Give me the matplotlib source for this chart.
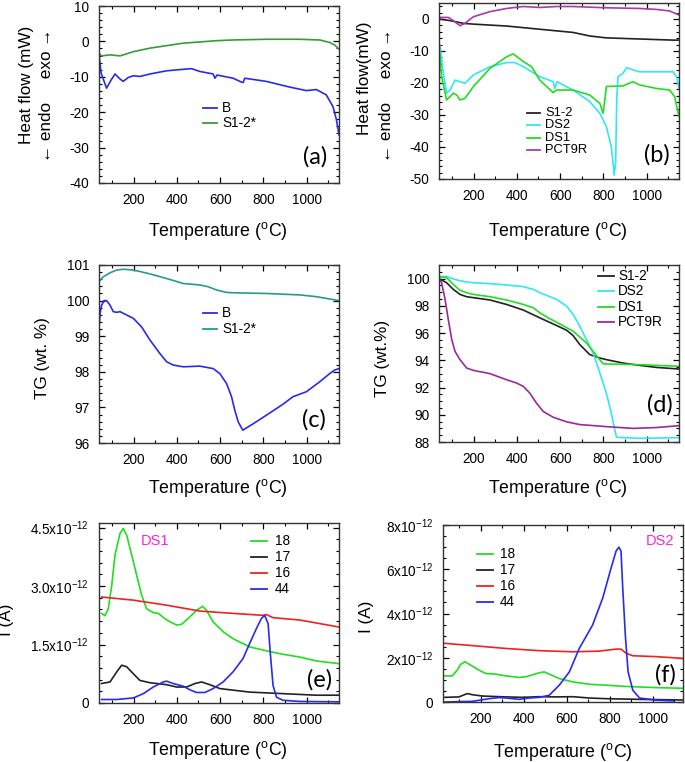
import matplotlib
matplotlib.use('Agg')
import matplotlib.pyplot as plt
from matplotlib.lines import Line2D
from matplotlib.ticker import MultipleLocator

plt.rcParams['font.family'] = ['Liberation Sans', 'DejaVu Sans']
plt.rcParams['mathtext.fontset'] = 'custom'
plt.rcParams['mathtext.rm'] = 'Liberation Sans'
plt.rcParams['mathtext.it'] = 'Liberation Sans:italic'
plt.rcParams['axes.unicode_minus'] = False

# ---------------- (a) DSC: B and S1-2* ----------------
a_B_T = [40, 50, 75, 95, 114, 135, 152, 175, 199, 230, 276, 353, 445, 468, 507, 568, 576, 586,
         660, 699, 707, 714, 814, 922, 999, 1045, 1091, 1122, 1138, 1150]
a_B_Q = [-3.8, -9.0, -13.2, -11.0, -9.2, -10.5, -11.3, -10.2, -9.7, -9.9, -9.2, -8.3, -7.8, -7.7,
         -8.5, -9.2, -10.4, -9.5, -10.4, -11.5, -11.6, -10.4, -11.3, -12.9, -13.9, -13.6, -15.1,
         -18.4, -22.1, -26.4]
a_S_T = [40, 52, 91, 137, 199, 276, 353, 430, 506, 583, 660, 814, 968, 1061, 1107, 1130, 1150]
a_S_Q = [-3.3, -4.1, -3.8, -4.1, -2.9, -1.9, -1.2, -0.5, -0.15, 0.2, 0.4, 0.6, 0.6, 0.4, -0.3,
         -1.0, -2.2]

# ---------------- (b) DSC: S1-2, DS2, DS1, PCT9R ----------------
b_S_T = [40, 91, 152, 199, 353, 506, 660, 737, 814, 968, 1122, 1150]
b_S_Q = [0, -0.5, -1.35, -1.6, -2.2, -3.2, -4.2, -5.3, -5.9, -6.25, -6.6, -6.6]
b_P_T = [40, 83, 106, 137, 160, 199, 276, 353, 430, 506, 583, 660, 814, 968, 1045, 1107, 1150]
b_P_Q = [0.5, 0.5, -0.5, -2.1, -1.35, 0.7, 2.3, 3.3, 3.9, 3.6, 3.9, 3.9, 3.5, 3.3, 3.0, 2.5, 1.25]
b_D2_T = [40, 45, 60, 75, 91, 114, 137, 160, 199, 276, 353, 391, 430, 468, 506, 568, 576, 586,
          660, 737, 784, 814, 837, 845, 850, 857, 862, 868, 891, 907, 937, 968, 1122, 1138, 1150]
b_D2_Q = [-7.0, -8.6, -17.0, -23.2, -22.2, -19.1, -19.6, -20.1, -17.5, -14.9, -13.6, -13.6,
          -14.9, -16.5, -18.0, -19.6, -21.7, -19.6, -22.2, -25.8, -29.5, -33.6, -39.9, -45.0,
          -48.8, -45.0, -25.0, -18.0, -17.0, -15.2, -15.9, -16.5, -16.5, -18.0, -21.7]
b_D1_T = [40, 52, 75, 91, 106, 122, 137, 160, 199, 276, 353, 383, 430, 468, 506, 568, 583, 660,
          737, 784, 799, 807, 814, 891, 937, 968, 1045, 1107, 1130, 1150]
b_D1_Q = [-7.6, -18.0, -25.3, -24.3, -23.2, -23.75, -25.3, -24.8, -21.1, -15.4, -11.8, -10.9,
          -13.3, -14.9, -19.1, -23.0, -22.2, -22.2, -23.75, -26.4, -29.5, -25.3, -21.1, -20.9,
          -19.6, -20.6, -21.7, -22.2, -24.3, -30.5]

# ---------------- (c) TG: B and S1-2* ----------------
c_B_T = [40, 45, 52, 63, 75, 91, 106, 122, 137, 199, 237, 276, 322, 353, 383, 430, 506, 568,
         599, 630, 653, 668, 684, 705, 753, 814, 891, 937, 999, 1061, 1107, 1130, 1150]
c_B_W = [99.22, 99.64, 99.87, 100.0, 100.0, 99.87, 99.69, 99.67, 99.69, 99.5, 99.26, 98.89,
         98.51, 98.28, 98.19, 98.14, 98.16, 98.09, 97.95, 97.67, 97.3, 96.92, 96.59, 96.36,
         96.54, 96.78, 97.09, 97.3, 97.44, 97.72, 97.95, 98.05, 98.09]
c_S_T = [40, 60, 91, 122, 152, 199, 276, 353, 430, 506, 545, 583, 630, 660, 814, 968, 1045, 1122,
         1150]
c_S_W = [100.53, 100.67, 100.78, 100.86, 100.88, 100.86, 100.75, 100.62, 100.48, 100.44, 100.39,
         100.3, 100.23, 100.22, 100.2, 100.16, 100.11, 100.03, 100.0]

# ---------------- (d) TG: S1-2, DS2, DS1, PCT9R ----------------
d_S_T = [40, 75, 106, 137, 168, 199, 276, 353, 430, 506, 583, 630, 660, 691, 737, 784, 814, 891,
         968, 1045, 1150]
d_S_W = [100.0, 99.7, 99.21, 98.84, 98.67, 98.6, 98.43, 98.1, 97.69, 97.12, 96.56, 96.21, 95.82,
         95.16, 94.42, 94.17, 94.05, 93.8, 93.63, 93.48, 93.36]
d_D2_T = [40, 75, 122, 168, 199, 276, 353, 430, 476, 506, 583, 630, 660, 691, 722, 753, 784, 814,
          837, 853, 861, 891, 968, 1150]
d_D2_W = [100.15, 100.15, 99.9, 99.75, 99.7, 99.63, 99.53, 99.41, 99.21, 98.97, 98.48, 97.98,
          97.37, 96.51, 95.52, 94.54, 93.07, 91.59, 90.12, 88.89, 88.35, 88.32, 88.27, 88.32]
d_D1_T = [40, 75, 106, 137, 176, 199, 276, 353, 430, 476, 506, 545, 583, 660, 722, 768, 799, 814,
          968, 1150]
d_D1_W = [100.15, 100.07, 99.58, 99.14, 98.92, 98.84, 98.67, 98.43, 98.1, 97.86, 97.49, 97.12,
          96.8, 96.14, 95.28, 94.34, 93.75, 93.73, 93.68, 93.56]
d_P_T = [40, 52, 68, 83, 99, 114, 137, 168, 199, 276, 353, 399, 430, 460, 491, 522, 568, 630, 691,
         814, 937, 1045, 1150]
d_P_W = [100.0, 99.7, 98.48, 97.0, 95.52, 94.66, 94.05, 93.43, 93.26, 93.02, 92.57, 92.33, 92.08,
         91.59, 90.85, 90.24, 89.82, 89.48, 89.28, 89.13, 89.0, 89.06, 89.2]

# ---------------- (e) MS currents, DS1 (units of 1e-12 A) ----------------
e_18_T = [52, 68, 83, 99, 114, 137, 152, 168, 191, 214, 237, 260, 291, 314, 353, 399, 422, 460,
          491, 519, 537, 568, 614, 660, 737, 814, 891, 968, 1045, 1150]
e_18_I = [2.3, 2.24, 2.42, 3.02, 3.8, 4.35, 4.48, 4.31, 3.8, 3.28, 2.77, 2.42, 2.32, 2.3, 2.13,
          2.0, 2.02, 2.21, 2.38, 2.48, 2.38, 2.08, 1.83, 1.65, 1.44, 1.34, 1.25, 1.18, 1.08, 1.01]
e_17_T = [52, 91, 122, 145, 168, 199, 229, 276, 353, 399, 445, 484, 514, 553, 599, 660, 737, 814,
          891, 968, 1045, 1150]
e_17_I = [0.5, 0.54, 0.8, 0.97, 0.93, 0.75, 0.58, 0.52, 0.47, 0.41, 0.41, 0.5, 0.54, 0.47, 0.37,
          0.33, 0.28, 0.26, 0.24, 0.22, 0.2, 0.2]
e_16_T = [52, 199, 353, 506, 660, 799, 814, 845, 968, 1150]
e_16_I = [2.72, 2.64, 2.51, 2.36, 2.3, 2.25, 2.27, 2.19, 2.13, 1.95]
e_44_T = [52, 122, 199, 245, 291, 337, 353, 383, 430, 460, 491, 530, 568, 614, 660, 706, 737, 768,
          791, 806, 822, 833, 845, 861, 891, 968, 1150]
e_44_I = [0.09, 0.09, 0.13, 0.24, 0.41, 0.54, 0.56, 0.5, 0.43, 0.34, 0.27, 0.27, 0.37, 0.54, 0.8,
          1.14, 1.53, 1.91, 2.17, 2.25, 2.04, 1.23, 0.45, 0.15, 0.07, 0.04, 0.03]

# ---------------- (f) MS currents, DS2 (units of 1e-12 A) ----------------
f_18_T = [34, 68, 91, 107, 127, 153, 192, 223, 270, 317, 379, 410, 472, 495, 518, 565, 627, 705,
          783, 860, 938, 1016, 1140]
f_18_I = [1.18, 1.18, 1.44, 1.7, 1.82, 1.67, 1.44, 1.29, 1.26, 1.18, 1.11, 1.14, 1.32, 1.36, 1.26,
          1.06, 0.91, 0.8, 0.76, 0.71, 0.68, 0.65, 0.62]
f_17_T = [34, 99, 138, 161, 208, 317, 395, 472, 550, 627, 705, 783, 938, 1140]
f_17_I = [0.21, 0.23, 0.38, 0.33, 0.27, 0.23, 0.21, 0.24, 0.23, 0.24, 0.18, 0.15, 0.12, 0.09]
f_16_T = [34, 161, 317, 472, 627, 751, 829, 852, 876, 907, 1016, 1140]
f_16_I = [2.65, 2.55, 2.42, 2.32, 2.27, 2.3, 2.39, 2.39, 2.2, 2.09, 2.05, 1.97]
f_44_T = [34, 161, 239, 285, 317, 379, 425, 472, 518, 565, 612, 658, 720, 767, 806, 829, 842, 852,
          860, 873, 885, 907, 938, 1016, 1094]
f_44_I = [0.0, 0.03, 0.15, 0.2, 0.18, 0.12, 0.18, 0.21, 0.3, 0.76, 1.36, 2.42, 3.48, 4.7, 6.06,
          6.82, 7.0, 6.82, 5.15, 2.88, 1.36, 0.53, 0.18, 0.08, 0.05]

BLUE = '#2a2aee'
GREEN = '#22dd22'
CYAN = '#33e6f6'
BLACK = '#222222'
PURPLE = '#9a2a9a'
RED = '#ee2222'

W, H = 685, 762
fig = plt.figure(figsize=(W / 100, H / 100), dpi=100)


def axes_px(l, t, r, b):
    ax = fig.add_axes([l / W, 1 - b / H, (r - l) / W, (b - t) / H])
    ax.tick_params(which='both', direction='in', top=True, right=True, labelsize=9.8, pad=7)
    ax.tick_params(which='major', length=4, width=0.9)
    ax.tick_params(which='minor', length=2.3, width=0.8)
    ax.xaxis.set_major_locator(MultipleLocator(200))
    ax.xaxis.set_minor_locator(MultipleLocator(100))
    for s in ax.spines.values():
        s.set_linewidth(1.0)
        s.set_color('#333333')
    return ax


def ftext(x, y, s, **kw):
    fig.text(x / W, 1 - y / H, s, ha='center', va='center', **kw)


def legend_px(entries, x, y0, dy, hl, gap, fs=9.8):
    for i, (lab, col) in enumerate(entries):
        y = 1 - (y0 + i * dy) / H
        fig.add_artist(Line2D([x / W, (x + hl) / W], [y, y], color=col, lw=1.3))
        fig.text((x + hl + gap) / W, y, lab, ha='left', va='center', fontsize=fs)


TLAB = r'Temperature ($^{\mathrm{o}}$C)'
LW = 1.2

# (a)
ax = axes_px(99, 6, 339, 183)
ax.plot(a_B_T, a_B_Q, color=BLUE, lw=LW)
ax.plot(a_S_T, a_S_Q, color='#3a9a3a', lw=LW)
ax.set_xlim(40, 1150)
ax.set_ylim(-40, 10)
ax.yaxis.set_major_locator(MultipleLocator(10))
ax.yaxis.set_minor_locator(MultipleLocator(2))
legend_px([('B', BLUE), ('S1-2*', '#3a9a3a')], 203, 108, 15, 14, 5)
ftext(218, 231, TLAB, fontsize=12.8)
ftext(27, 85, 'Heat flow (mW)', fontsize=12.3, rotation=90)
ftext(47, 95, '\u2190 endo     exo \u2192', fontsize=12.3, rotation=90)
ftext(315, 157, '(a)', fontsize=17, family='Lato')

# (b)
ax = axes_px(439, 3, 679, 179)
ax.plot(b_S_T, b_S_Q, color=BLACK, lw=LW)
ax.plot(b_D2_T, b_D2_Q, color=CYAN, lw=LW)
ax.plot(b_D1_T, b_D1_Q, color=GREEN, lw=LW)
ax.plot(b_P_T, b_P_Q, color='#aa3aaa', lw=LW)
ax.set_xlim(40, 1150)
ax.set_ylim(-50, 5)
ax.yaxis.set_major_locator(MultipleLocator(10))
ax.yaxis.set_minor_locator(MultipleLocator(2))
legend_px([('S1-2', BLACK), ('DS2', CYAN), ('DS1', GREEN), ('PCT9R', '#aa3aaa')],
          527, 113, 12.4, 13, 5, fs=9.3)
ftext(558, 231, TLAB, fontsize=12.8)
ftext(365, 78, 'Heat flow(mW)', fontsize=12.3, rotation=90)
ftext(387, 95, '\u2190 endo     exo \u2192', fontsize=12.3, rotation=90)
ftext(657, 155, '(b)', fontsize=17, family='Lato')

# (c)
ax = axes_px(99, 265, 339, 443)
ax.plot(c_B_T, c_B_W, color=BLUE, lw=LW)
ax.plot(c_S_T, c_S_W, color='#2a9a8a', lw=LW)
ax.set_xlim(40, 1150)
ax.set_ylim(96, 101)
ax.yaxis.set_major_locator(MultipleLocator(1))
ax.yaxis.set_minor_locator(MultipleLocator(0.2))
legend_px([('B', BLUE), ('S1-2*', '#2a9a8a')], 203, 313, 16, 14, 5)
ftext(218, 488, TLAB, fontsize=12.8)
ftext(42, 358, 'TG (wt. %)', fontsize=12.3, rotation=90)
ftext(314, 420, '(c)', fontsize=17, family='Lato')

# (d)
ax = axes_px(439, 265, 679, 442)
ax.plot(d_S_T, d_S_W, color=BLACK, lw=LW)
ax.plot(d_D2_T, d_D2_W, color=CYAN, lw=LW)
ax.plot(d_D1_T, d_D1_W, color=GREEN, lw=LW)
ax.plot(d_P_T, d_P_W, color=PURPLE, lw=LW)
ax.set_xlim(40, 1150)
ax.set_ylim(88, 101)
ax.yaxis.set_major_locator(MultipleLocator(2))
ax.yaxis.set_minor_locator(MultipleLocator(0.5))
legend_px([('S1-2', BLACK), ('DS2', CYAN), ('DS1', GREEN), ('PCT9R', PURPLE)],
          598, 276, 15.3, 16, 4)
ftext(558, 488, TLAB, fontsize=12.8)
ftext(382, 358, 'TG (wt.%)', fontsize=12.3, rotation=90)
ftext(660, 405, '(d)', fontsize=17, family='Lato')

# (e)
ax = axes_px(99, 523, 339, 703)
ax.plot(e_18_T, e_18_I, color=GREEN, lw=LW)
ax.plot(e_17_T, e_17_I, color=BLACK, lw=LW)
ax.plot(e_16_T, e_16_I, color=RED, lw=LW)
ax.plot(e_44_T, e_44_I, color=BLUE, lw=LW)
ax.set_xlim(40, 1150)
ax.set_ylim(0, 4.62)
ax.set_yticks([0, 1.5, 3.0, 4.5])
ax.set_yticklabels(['0', r'1.5x10$^{-12}$', r'3.0x10$^{-12}$', r'4.5x10$^{-12}$'])
ax.yaxis.set_minor_locator(MultipleLocator(0.3))
legend_px([('18', GREEN), ('17', BLACK), ('16', RED), ('44', BLUE)], 251, 541, 16, 16, 8)
ftext(155, 541, 'DS1', fontsize=10.5, color='#ff22dd')
ftext(218, 750, TLAB, fontsize=12.8)
ftext(7, 620, 'I (A)', fontsize=12.3, rotation=90)
ftext(320, 680, '(e)', fontsize=17, family='Lato')

# (f)
ax = axes_px(443, 525, 683, 702)
ax.plot(f_18_T, f_18_I, color=GREEN, lw=LW)
ax.plot(f_17_T, f_17_I, color=BLACK, lw=LW)
ax.plot(f_16_T, f_16_I, color=RED, lw=LW)
ax.plot(f_44_T, f_44_I, color=BLUE, lw=LW)
ax.set_xlim(25, 1140)
ax.set_ylim(0, 8)
ax.set_yticks([0, 2, 4, 6, 8])
ax.set_yticklabels(['0', r'2x10$^{-12}$', r'4x10$^{-12}$', r'6x10$^{-12}$', r'8x10$^{-12}$'])
ax.yaxis.set_minor_locator(MultipleLocator(0.5))
legend_px([('18', GREEN), ('17', BLACK), ('16', RED), ('44', BLUE)], 477, 554, 16, 16, 7)
ftext(660, 541, 'DS2', fontsize=10.5, color='#ff22dd')
ftext(563, 752, TLAB, fontsize=12.8)
ftext(367, 617, 'I (A)', fontsize=12.3, rotation=90)
ftext(665, 675, '(f)', fontsize=17, family='Lato')

fig.savefig('out.png', dpi=100)
